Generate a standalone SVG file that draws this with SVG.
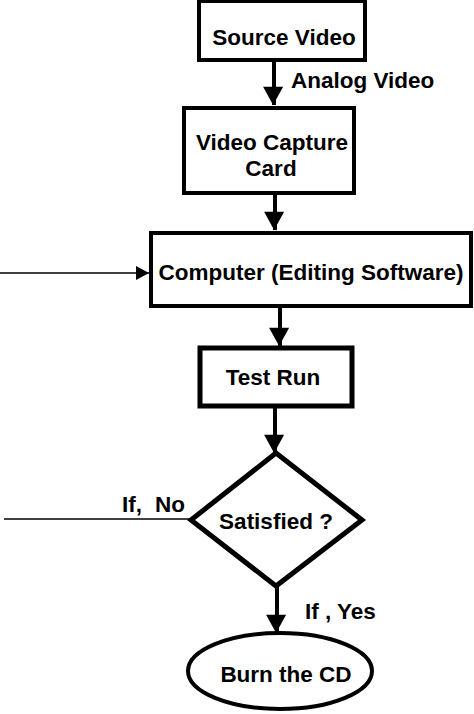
<svg xmlns="http://www.w3.org/2000/svg" width="474" height="714" viewBox="0 0 474 714">
<style>
.box{fill:#fff;stroke:#000;stroke-width:4}
.t{font-family:"Liberation Sans",Arial,sans-serif;font-weight:bold;font-size:22.5px;fill:#000}
.c{text-anchor:middle}
.thick{stroke:#000;stroke-width:4;fill:none}
.thin{stroke:#000;stroke-width:1.5;fill:none}
</style>
<defs>
<marker id="ah" markerUnits="userSpaceOnUse" markerWidth="22" markerHeight="20" refX="20" refY="10" orient="auto" viewBox="0 0 20 22">
<path d="M0,0 L20,11 L0,22 Z" fill="#000"/>
</marker>
<marker id="as" markerUnits="userSpaceOnUse" markerWidth="13" markerHeight="14" refX="13" refY="7" orient="auto" viewBox="0 0 13 14">
<path d="M0,0 L13,7 L0,14 Z" fill="#000"/>
</marker>
</defs>
<g id="connectors">
<line class="thick" x1="274" y1="61" x2="274" y2="105" marker-end="url(#ah)"/>
<line class="thick" x1="275" y1="194" x2="275" y2="230" marker-end="url(#ah)"/>
<line class="thin" x1="0" y1="273" x2="149" y2="273" marker-end="url(#as)"/>
<line class="thick" x1="280" y1="307" x2="280" y2="346" marker-end="url(#ah)"/>
<line class="thick" x1="275" y1="407" x2="275" y2="453" marker-end="url(#ah)"/>
<line class="thin" x1="4" y1="519" x2="191" y2="519"/>
<line class="thick" x1="277" y1="586" x2="277" y2="633" marker-end="url(#ah)"/>
<text class="t" x="291" y="88">Analog Video</text>
<text class="t" x="122" y="512">If,</text>
<text class="t" x="155" y="512">No</text>
<text class="t" x="305" y="619">If , Yes</text>
</g>
<g id="source">
<rect class="box" x="199" y="1" width="166" height="59"/>
<text class="t c" x="284" y="45">Source Video</text>
</g>
<g id="capture">
<rect class="box" x="184" y="108" width="170" height="85"/>
<text class="t c" x="272" y="150">Video Capture</text>
<text class="t c" x="271" y="176">Card</text>
</g>
<g id="computer">
<rect class="box" x="151" y="233" width="320" height="73"/>
<text class="t c" x="311" y="280">Computer (Editing Software)</text>
</g>
<g id="testrun">
<rect class="box" x="200" y="348" width="152" height="58" style="stroke-width:5"/>
<text class="t c" x="273" y="385">Test Run</text>
</g>
<g id="decision">
<polygon class="box" points="276,453 362,520 276,586 191,520" style="stroke-width:5"/>
<text class="t c" x="276" y="529">Satisfied ?</text>
</g>
<g id="burn">
<ellipse class="box" cx="280" cy="671" rx="92" ry="38"/>
<text class="t c" x="286" y="682">Burn the CD</text>
</g>
</svg>
